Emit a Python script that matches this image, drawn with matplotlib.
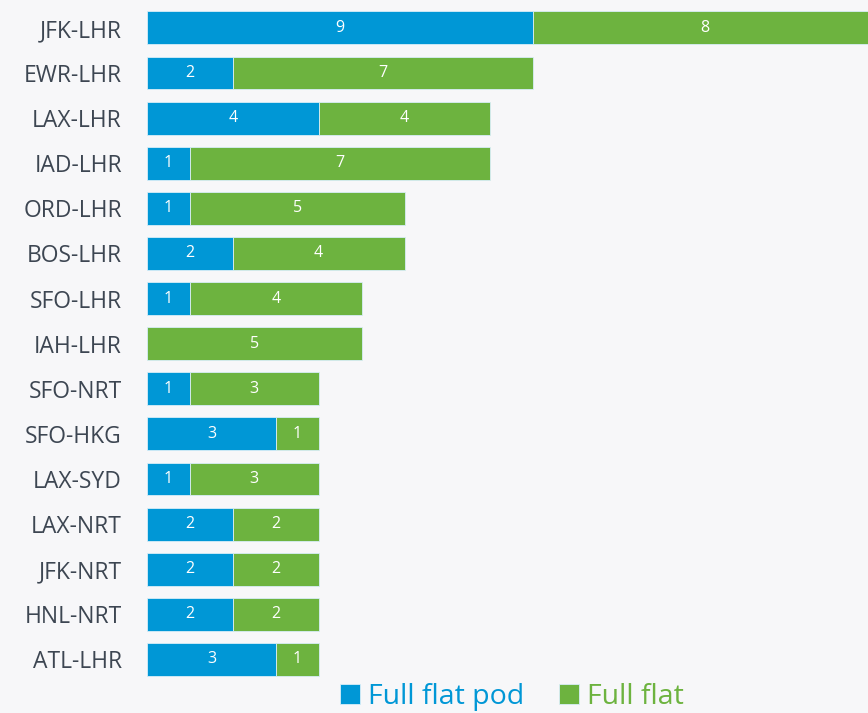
import numpy as np
import matplotlib.pyplot as plt

plt.rcParams['font.family'] = ['Open Sans', 'DejaVu Sans']

## data
routes = ['JFK-LHR', 'EWR-LHR', 'LAX-LHR', 'IAD-LHR', 'ORD-LHR', 'BOS-LHR', 'SFO-LHR',
          'IAH-LHR', 'SFO-NRT', 'SFO-HKG', 'LAX-SYD', 'LAX-NRT', 'JFK-NRT', 'HNL-NRT', 'ATL-LHR']
full_flat_pod = [9, 2, 4, 1, 1, 2, 1, 0, 1, 3, 1, 2, 2, 2, 3]
full_flat = [8, 7, 4, 7, 5, 4, 4, 5, 3, 1, 3, 2, 2, 2, 1]

blue = '#0097d6'
green = '#6db33f'
bg = '#f7f7f9'

fig = plt.figure(figsize=(8.68, 7.13), dpi=100, facecolor=bg)
ax = fig.add_axes([147 / 868, 0.0435, 1 - 147 / 868, 0.949])
ax.set_facecolor(bg)

y = np.arange(len(routes))
b1 = ax.barh(y, full_flat_pod, height=0.73, color=blue, edgecolor='#d8eef8', linewidth=0.6,
             label='Full flat pod')
b2 = ax.barh(y, full_flat, left=full_flat_pod, height=0.73, color=green, edgecolor='#d8eef8',
             linewidth=0.6, label='Full flat')

# valeurs dans les barres
for bars, vals in [(b1, full_flat_pod), (b2, full_flat)]:
    for rect, v in zip(bars, vals):
        if v == 0:
            continue
        ax.text(rect.get_x() + rect.get_width() / 2, rect.get_y() + rect.get_height() / 2,
                str(v), color='white', ha='center', va='center', fontsize=11.5)

ax.set_xlim(0, 16.8)
ax.set_ylim(len(routes) - 0.5, -0.5)
ax.set_yticks(y)
ax.set_yticklabels(routes, fontsize=16.5, color='#3d4652')
ax.tick_params(axis='y', length=0, pad=18)
ax.set_xticks([])
for s in ax.spines.values():
    s.set_visible(False)

leg = fig.legend(handles=[b1, b2], loc='center', bbox_to_anchor=(512 / 868, 1 - 697 / 713),
                 ncol=2, frameon=False, fontsize=20.5, handlelength=0.7, handleheight=0.7,
                 handletextpad=0.3, columnspacing=1.2, borderpad=0)
for txt, c in zip(leg.get_texts(), [blue, green]):
    txt.set_color(c)

plt.savefig('out.png', dpi=100, facecolor=bg)
